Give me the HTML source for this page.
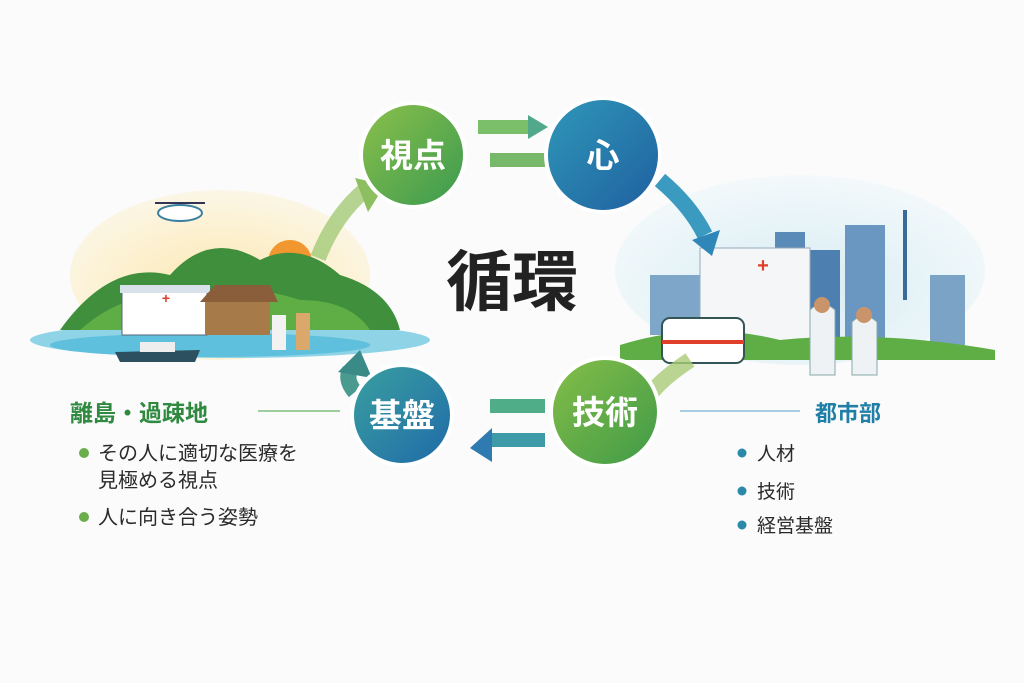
<!DOCTYPE html>
<html><head><meta charset="utf-8"><style>
body{margin:0;width:1024px;height:683px;background:#fbfbfc;overflow:hidden}
svg{display:block}
text{font-family:"Liberation Sans","Noto Sans CJK JP",sans-serif}
</style></head><body>
<svg width="1024" height="683" viewBox="0 0 1024 683">
<defs>
<linearGradient id="g1" x1="0" y1="0" x2="1" y2="1"><stop offset="0" stop-color="#8cc04a"/><stop offset="1" stop-color="#3a9a50"/></linearGradient>
<linearGradient id="g2" x1="0" y1="0" x2="1" y2="1"><stop offset="0" stop-color="#2f98b8"/><stop offset="1" stop-color="#1f5fa0"/></linearGradient>
<linearGradient id="g3" x1="0" y1="0" x2="1" y2="1"><stop offset="0" stop-color="#3aa0a0"/><stop offset="1" stop-color="#1f6aa8"/></linearGradient>
<linearGradient id="g4" x1="0" y1="0" x2="1" y2="1"><stop offset="0" stop-color="#86be48"/><stop offset="1" stop-color="#3f9a48"/></linearGradient>
<radialGradient id="sky1" cx="0.5" cy="0.6" r="0.6"><stop offset="0" stop-color="#fde8b0"/><stop offset="1" stop-color="#fbf6e6"/></radialGradient>
<radialGradient id="sky2" cx="0.5" cy="0.6" r="0.6"><stop offset="0" stop-color="#d7ecf3"/><stop offset="1" stop-color="#f3f9fb"/></radialGradient>
</defs>
<ellipse cx="220" cy="275" rx="150" ry="85" fill="url(#sky1)"/>
<circle cx="290" cy="262" r="22" fill="#f2962f"/>
<ellipse cx="230" cy="340" rx="200" ry="18" fill="#8fd3e6"/>
<ellipse cx="210" cy="345" rx="160" ry="12" fill="#5ec0dc"/>
<path d="M60 330 Q110 260 170 275 Q210 230 260 260 Q300 240 340 275 Q390 290 400 330 Z" fill="#3f8f3c"/>
<path d="M80 330 Q130 285 190 300 Q240 280 300 300 Q350 300 370 330 Z" fill="#5fae45"/>
<rect x="122" y="290" width="85" height="45" fill="#fff" stroke="#567" stroke-width="1"/>
<rect x="120" y="285" width="90" height="8" fill="#d9e2ea"/>
<text x="166" y="303" font-size="14" fill="#e0402a" text-anchor="middle" font-weight="bold">+</text>
<rect x="205" y="300" width="65" height="35" fill="#a77a4a"/>
<path d="M200 302 L215 285 L270 285 L278 302 Z" fill="#8a5e3a"/>
<rect x="272" y="315" width="14" height="35" fill="#f2f2f2"/><rect x="296" y="313" width="14" height="37" fill="#d9a86a"/>
<path d="M120 362 L195 362 L200 350 L115 352 Z" fill="#2c5060"/><rect x="140" y="342" width="35" height="10" fill="#eee"/>
<ellipse cx="180" cy="213" rx="22" ry="8" fill="#fff" stroke="#3a7fa0" stroke-width="2"/>
<line x1="155" y1="203" x2="205" y2="203" stroke="#335" stroke-width="2"/>
<ellipse cx="800" cy="270" rx="185" ry="95" fill="url(#sky2)"/>
<rect x="775" y="232" width="30" height="110" fill="#5a8ab8"/><rect x="845" y="225" width="40" height="115" fill="#6a97c2"/>
<rect x="930" y="275" width="35" height="70" fill="#7aa3c6"/><rect x="650" y="275" width="50" height="60" fill="#7ea6c8"/>
<rect x="810" y="250" width="30" height="90" fill="#4d7fb0"/>
<line x1="905" y1="210" x2="905" y2="300" stroke="#3a6a98" stroke-width="4"/>
<rect x="700" y="248" width="110" height="95" fill="#f4f6f8" stroke="#9ab" stroke-width="1"/>
<text x="763" y="272" font-size="20" fill="#e0402a" text-anchor="middle" font-weight="bold">+</text>
<path d="M620 345 Q700 320 780 340 Q880 330 995 350 L995 360 L620 360 Z" fill="#5fae45"/>
<rect x="662" y="318" width="82" height="45" rx="8" fill="#fff" stroke="#355" stroke-width="2"/>
<rect x="662" y="340" width="82" height="4" fill="#e0402a"/>
<path d="M810 310 Q822 298 835 310 L835 375 L810 375 Z" fill="#eef2f4" stroke="#8aa" stroke-width="1"/>
<path d="M852 322 Q864 310 877 322 L877 375 L852 375 Z" fill="#eef2f4" stroke="#8aa" stroke-width="1"/>
<circle cx="822" cy="305" r="8" fill="#c9946a"/><circle cx="864" cy="315" r="8" fill="#c9946a"/>
<path d="M318 258 Q335 215 365 190" stroke="#a8cc7e" stroke-width="16" fill="none" opacity="0.85"/>
<polygon points="355,178 385,185 368,212" fill="#8dbf60"/>
<path d="M478 127 L530 127" stroke="#7cbf6a" stroke-width="14"/><polygon points="528,115 548,127 528,139" fill="#52a88a"/>
<path d="M545 160 L490 160" stroke="#78b86a" stroke-width="14"/>
<path d="M660 180 Q690 205 705 235" stroke="#3a9ac0" stroke-width="16" fill="none"/>
<polygon points="692,240 720,230 712,256" fill="#2f86b8"/>
<path d="M690 360 Q660 380 650 395" stroke="#a9cc76" stroke-width="16" fill="none" opacity="0.8"/>
<polygon points="598,358 632,370 605,383" fill="#8cc050"/>
<path d="M545 406 L490 406" stroke="#4fae88" stroke-width="14"/>
<path d="M545 440 L490 440" stroke="#3f9aa8" stroke-width="14"/><polygon points="492,428 470,448 492,462" fill="#2f7ab0"/>
<path d="M355 392 Q345 380 350 370" stroke="#4a9a90" stroke-width="16" fill="none"/>
<polygon points="338,372 360,350 372,378" fill="#3a8a88"/>
<circle cx="413" cy="155" r="52" fill="url(#g1)" stroke="#fff" stroke-width="4"/>
<circle cx="603" cy="155" r="57" fill="url(#g2)" stroke="#fff" stroke-width="4"/>
<circle cx="402" cy="415" r="50" fill="url(#g3)" stroke="#fff" stroke-width="4"/>
<circle cx="605" cy="412" r="54" fill="url(#g4)" stroke="#fff" stroke-width="4"/>
<g fill="#fff" font-size="33" font-weight="bold" text-anchor="middle">
<text x="413" y="167">視点</text><text x="603" y="167">心</text>
<text x="402" y="427">基盤</text><text x="605" y="424">技術</text></g>
<text x="512" y="305" font-size="66" font-weight="bold" fill="#222" text-anchor="middle">循環</text>
<text x="70" y="421" font-size="23" font-weight="bold" fill="#2f8a3f">離島・過疎地</text>
<line x1="258" y1="411" x2="340" y2="411" stroke="#7fbf7f" stroke-width="1.5"/>
<g font-size="20" fill="#2a2a2a"><circle cx="84" cy="453" r="5" fill="#6aad4a"/><text x="98" y="460">その人に適切な医療を</text>
<text x="98" y="487">見極める視点</text>
<circle cx="84" cy="517" r="5" fill="#6aad4a"/><text x="98" y="524">人に向き合う姿勢</text></g>
<text x="815" y="421" font-size="22" font-weight="bold" fill="#1f7fa6">都市部</text>
<line x1="680" y1="411" x2="800" y2="411" stroke="#8cbcd6" stroke-width="1.5"/>
<g font-size="19" fill="#2a2a2a"><circle cx="742" cy="453" r="4.5" fill="#2a88a8"/><text x="757" y="460">人材</text>
<circle cx="742" cy="491" r="4.5" fill="#2a88a8"/><text x="757" y="498">技術</text>
<circle cx="742" cy="525" r="4.5" fill="#2a88a8"/><text x="757" y="532">経営基盤</text></g>
</svg>
</body></html>
